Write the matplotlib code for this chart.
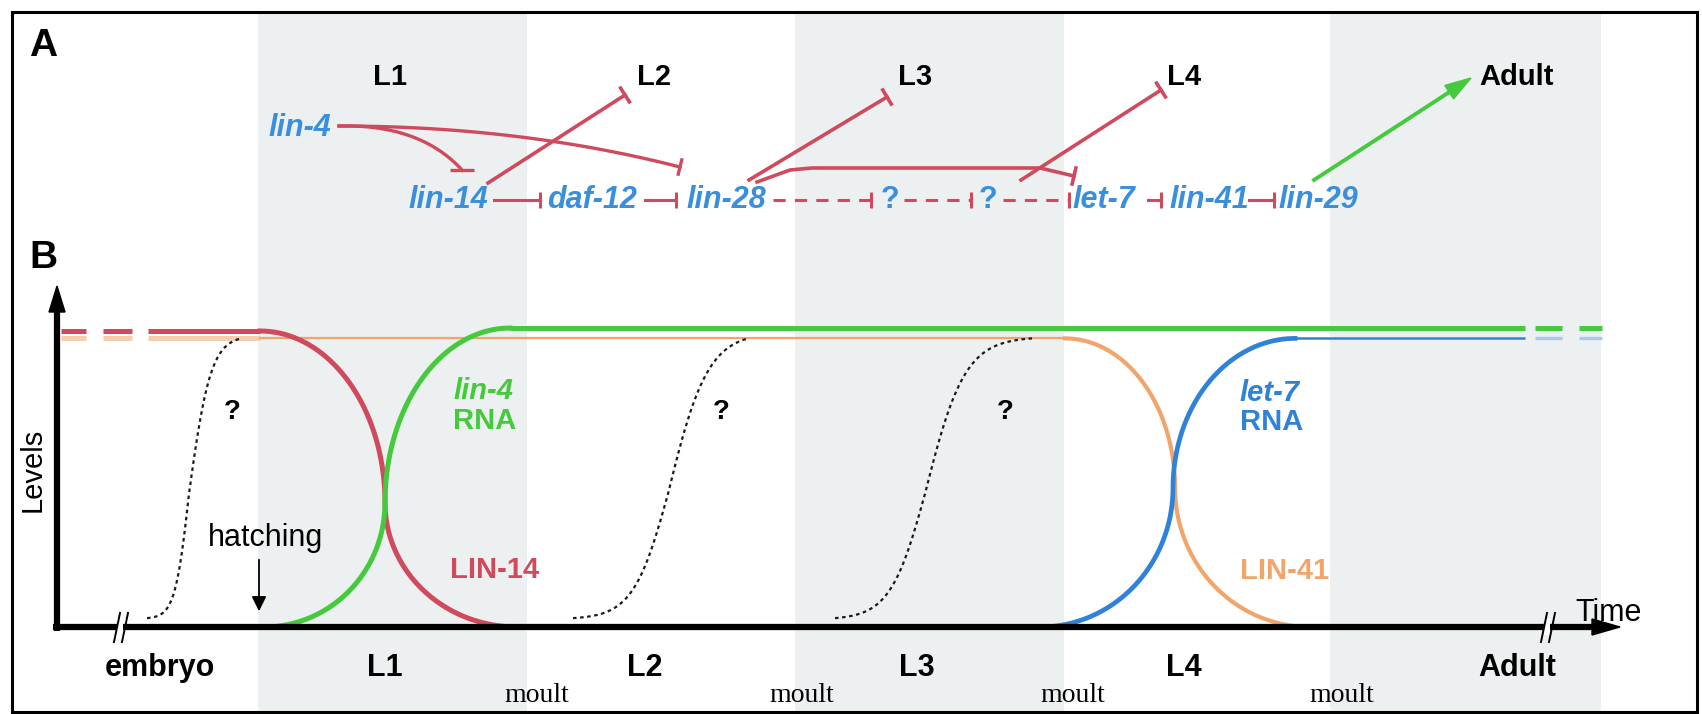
import numpy as np
import matplotlib.pyplot as plt
from matplotlib.patches import Polygon, Rectangle

plt.rcParams['font.family'] = ['Liberation Sans', 'DejaVu Sans']

W, H = 1702, 714
RED = "#cf4a5d"
GREEN = "#45c93d"
BLUE = "#2f82d8"
ORANGE = "#f2a56b"
PALE_ORANGE = "#f6cdae"
PALE_BLUE = "#a9c9ee"
GENE_BLUE = "#3a8fdc"
BAND = "#edf0f1"

# ---- layout data (picture pixels) ----
bands = [(258, 527), (795, 1064), (1330, 1601)]

top_stages = ["L1", "L2", "L3", "L4", "Adult"]
top_stage_x = [373, 637, 898, 1167, 1479]
top_stage_y = 77

bottom_stages = ["embryo", "L1", "L2", "L3", "L4", "Adult"]
bottom_stage_x = [160, 385, 645, 917, 1184, 1517]
moult_x = [537, 802, 1073, 1342]

genes = ["lin-4", "lin-14", "daf-12", "lin-28", "?", "?", "let-7", "lin-41", "lin-29"]
gene_x = [268, 408, 547, 686, 881, 979, 1072, 1169, 1278]
gene_y = [128, 200, 200, 200, 200, 200, 200, 200, 200]

# inhibition links along the gene row: (start, end, dashed)
chain = [(494, 540, False), (645, 676, False), (773, 871, True),
         (904, 971, True), (1003, 1069, True), (1148, 1161, False),
         (1249, 1274, False)]

lin4_lin14 = [(339, 126), (420, 124), (462, 170)]
lin4_lin28 = [(339, 126), (520, 126), (680, 167)]
lin14_L2 = [(488, 183), (625, 95)]
lin28_L3 = [(749, 180), (887, 97)]
lin28_let7 = [(757, 182), (790, 170), (812, 168), (1040, 168), (1074, 176)]
let7_L4 = [(1021, 180), (1161, 90)]
lin29_adult = [(1314, 180), (1471, 78)]

# panel B: levels 0..1
base_y, level_h = 627, 296
lin14_drop = (260, 385, 517, 1.0, 0.42, 0.0)
lin4_rise = (264, 385, 510, 0.0, 0.42, 1.01)
lin41_drop = (1065, 1175, 1310, 0.975, 0.47, 0.0)
let7_rise = (1040, 1173, 1295, 0.0, 0.47, 0.975)
left_dashes = [(61, 86), (103, 132), (148, 260)]
right_dashes = [(1535, 1562), (1579, 1602)]
green_flat = (510, 1525)
orange_flat = (260, 1065)
blue_flat = (1295, 1525)
dotted = [(147, 189, 241, 14, 22), (573, 668, 748, 35, 40), (835, 925, 1032, 35, 40)]
question_x = [232, 721, 1005]


def ly(v):
    return base_y - level_h * np.asarray(v)


def s_curve(x0, xm, x1, v0, vm, v1, n=80):
    phi = np.linspace(0, np.pi / 2, n)
    xa = x0 + (xm - x0) * np.sin(phi)
    va = vm + (v0 - vm) * np.cos(phi)
    xb = x1 - (x1 - xm) * np.cos(phi)
    vb = vm + (v1 - vm) * np.sin(phi)
    return np.concatenate([xa, xb]), np.concatenate([va, vb])


def tanh_curve(x0, xm, x1, s0, s1, v0=0.03, vm=0.45, v1=0.975):
    xl = np.linspace(x0, xm, 60)
    xr = np.linspace(xm, x1, 60)
    vl = vm - (vm - v0) * np.tanh((xm - xl) / s0) / np.tanh((xm - x0) / s0)
    vr = vm + (v1 - vm) * np.tanh((xr - xm) / s1) / np.tanh((x1 - xm) / s1)
    return np.concatenate([xl, xr]), np.concatenate([vl, vr])


def bezier(pts, n=60):
    p0, p1, p2 = [np.array(p, float) for p in pts]
    t = np.linspace(0, 1, n)[:, None]
    return (1 - t) ** 2 * p0 + 2 * (1 - t) * t * p1 + t ** 2 * p2


def tbar(ax, end, prev, half=10, color=RED, lw=2.4, horizontal=False):
    end = np.array(end, float)
    d = end - np.array(prev, float)
    d /= np.hypot(*d)
    perp = np.array([1.0, 0.0]) if horizontal else np.array([-d[1], d[0]])
    a, b = end - perp * half, end + perp * half
    ax.plot([a[0], b[0]], [a[1], b[1]], color=color, lw=lw, solid_capstyle='butt', zorder=5)


fig = plt.figure(figsize=(W / 100, H / 100), dpi=100)
ax = fig.add_axes([0, 0, 1, 1])
ax.set_xlim(0, W)
ax.set_ylim(H, 0)
ax.axis('off')

# background stage bands and frame
for x0, x1 in bands:
    ax.add_patch(Rectangle((x0, 12), x1 - x0, 700, color=BAND, lw=0, zorder=0))
ax.add_patch(Rectangle((12, 12), 1685, 700, fill=False, ec='black', lw=2.2, zorder=10))

ax.text(29, 46, "A", fontsize=28, fontweight='bold', va='center', ha='left')
ax.text(29, 258, "B", fontsize=28, fontweight='bold', va='center', ha='left')

# ---- panel A ----
for name, x in zip(top_stages, top_stage_x):
    ax.text(x, top_stage_y, name, fontsize=21, fontweight='bold', va='center', ha='left')

for name, x, y in zip(genes, gene_x, gene_y):
    ax.text(x, y, name, fontsize=22, fontweight='bold', style='italic' if name != "?" else 'normal',
            color=GENE_BLUE, va='center', ha='left')

for xs, xe, dashed in chain:
    ax.plot([xs, xe], [200, 200], color=RED, lw=2.2,
            linestyle=(0, (4, 3)) if dashed else '-', zorder=5)
    tbar(ax, (xe, 200), (xs, 200), half=8, lw=2.2)

b = bezier(lin4_lin14)
ax.plot(b[:, 0], b[:, 1], color=RED, lw=2.4, zorder=5)
tbar(ax, b[-1], b[-2], half=12, horizontal=True)

b = bezier(lin4_lin28)
ax.plot(b[:, 0], b[:, 1], color=RED, lw=2.4, zorder=5)
tbar(ax, b[-1], b[-4], half=9)

for seg in (lin14_L2, lin28_L3, let7_L4, lin28_let7):
    xs, ys = zip(*seg)
    ax.plot(xs, ys, color=RED, lw=2.6, zorder=5, solid_joinstyle='round')
    tbar(ax, seg[-1], seg[-2], half=10, lw=2.6)

(gx0, gy0), (gx1, gy1) = lin29_adult
d = np.array([gx1 - gx0, gy1 - gy0], float)
d /= np.hypot(*d)
perp = np.array([-d[1], d[0]])
tip = np.array([gx1, gy1], float)
base = tip - d * 26
ax.plot([gx0, base[0]], [gy0, base[1]], color=GREEN, lw=2.8, zorder=5)
ax.add_patch(Polygon([tip, base + perp * 8, base - perp * 8], color=GREEN, zorder=5))

# ---- panel B ----
for xs, xe in left_dashes:
    ax.plot([xs, xe], ly([0.975, 0.975]), color=PALE_ORANGE, lw=3.6, solid_capstyle='butt', zorder=2)
    ax.plot([xs, xe], ly([1.0, 1.0]), color=RED, lw=3.6, solid_capstyle='butt', zorder=3)
ax.plot(orange_flat, ly([0.975, 0.975]), color=ORANGE, lw=1.6, zorder=2)

x, v = s_curve(*lin14_drop)
ax.plot(x, ly(v), color=RED, lw=3.6, zorder=3)
x, v = s_curve(*lin4_rise)
ax.plot(x, ly(v), color=GREEN, lw=3.6, zorder=4)
ax.plot(green_flat, ly([1.01, 1.01]), color=GREEN, lw=3.6, solid_capstyle='butt', zorder=4)
x, v = s_curve(*lin41_drop)
ax.plot(x, ly(v), color=ORANGE, lw=3.0, zorder=3)
x, v = s_curve(*let7_rise)
ax.plot(x, ly(v), color=BLUE, lw=3.4, zorder=4)
ax.plot(blue_flat, ly([0.975, 0.975]), color=BLUE, lw=1.8, solid_capstyle='butt', zorder=4)
for xs, xe in right_dashes:
    ax.plot([xs, xe], ly([1.01, 1.01]), color=GREEN, lw=3.6, solid_capstyle='butt', zorder=4)
    ax.plot([xs, xe], ly([0.975, 0.975]), color=PALE_BLUE, lw=2.4, solid_capstyle='butt', zorder=4)

for x0, xm, x1, s0, s1 in dotted:
    x, v = tanh_curve(x0, xm, x1, s0, s1)
    ax.plot(x, ly(v), color='#1a1a1a', lw=1.6, linestyle=(0, (1.6, 1.6)), zorder=3)
for qx in question_x:
    ax.text(qx, 412, "?", fontsize=20, fontweight='bold', ha='center', va='center')

ax.text(453, 391, "lin-4", fontsize=21, fontweight='bold', style='italic', color=GREEN, va='center')
ax.text(453, 421, "RNA", fontsize=21, fontweight='bold', color=GREEN, va='center')
ax.text(450, 570, "LIN-14", fontsize=21, fontweight='bold', color=RED, va='center')
ax.text(1240, 393, "let-7", fontsize=21, fontweight='bold', style='italic', color=BLUE, va='center')
ax.text(1240, 422, "RNA", fontsize=21, fontweight='bold', color=BLUE, va='center')
ax.text(1240, 571, "LIN-41", fontsize=21, fontweight='bold', color=ORANGE, va='center')

# axes with arrow heads
ax.plot([57, 57], [631, 305], color='black', lw=4.5, solid_capstyle='butt', zorder=6)
ax.add_patch(Polygon([(57, 286), (49, 312), (65, 312)], color='black', zorder=6))
ax.plot([53, 1595], [627, 627], color='black', lw=4.5, solid_capstyle='butt', zorder=6)
ax.add_patch(Polygon([(1620, 627), (1592, 619), (1592, 635)], color='black', zorder=6))
for bx in (116, 1543):
    ax.add_patch(Rectangle((bx + 1, 619), 6, 16, color='white', lw=0, zorder=7))
    for off in (0, 8):
        ax.plot([bx + off - 2, bx + off + 4], [642, 613], color='black', lw=1.4, zorder=8)

ax.text(33, 470, "Levels", fontsize=21, rotation=90, ha='center', va='center')
ax.text(1575, 621, "Time", fontsize=22, ha='left', va='baseline')

ax.text(266, 538, "hatching", fontsize=22, ha='center', va='center')
ax.annotate("", xy=(259, 614), xytext=(259, 557),
            arrowprops=dict(arrowstyle='-|>', color='black', lw=1.3, mutation_scale=22), zorder=6)

for name, x in zip(bottom_stages, bottom_stage_x):
    ax.text(x, 668, name, fontsize=22, fontweight='bold', ha='center', va='center')
for x in moult_x:
    ax.text(x, 696, "moult", fontsize=20, family='Liberation Serif', ha='center', va='center')

fig.savefig("out.png", dpi=100)
